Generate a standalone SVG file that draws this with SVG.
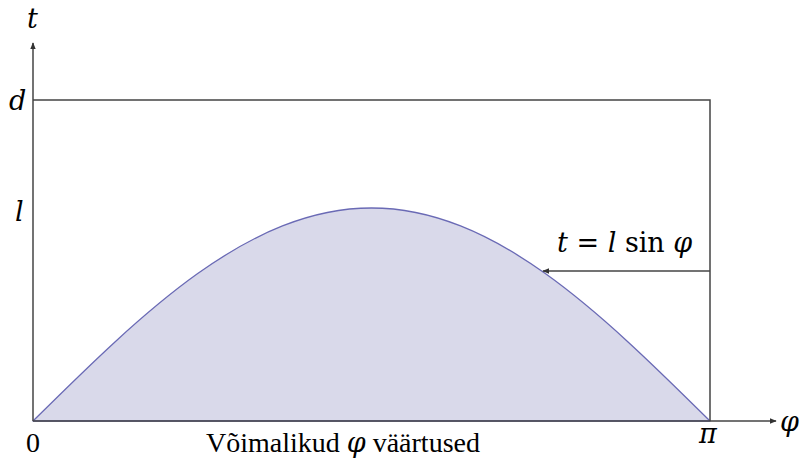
<svg xmlns="http://www.w3.org/2000/svg" width="800" height="459" viewBox="0 0 800 459">
<defs>
<style>
.ax{stroke:#444;stroke-width:1.5;fill:none}
.m{font-family:"DejaVu Serif","Liberation Serif",serif;font-style:italic;font-size:27px;fill:#000}
.r{font-family:"Liberation Serif","Times New Roman",serif;font-size:28px;fill:#000}
</style>
<marker id="ah" viewBox="0 0 10 10" refX="9" refY="5" markerWidth="7" markerHeight="7" orient="auto-start-reverse" markerUnits="userSpaceOnUse">
<path d="M0,1 L10,5 L0,9 Z" fill="#333"/>
</marker>
</defs>
<rect width="800" height="459" fill="#fff"/>
<g id="curve">
<path d="M33,421 C143.4,311.9 249,208 371.5,208 C494,208 599.6,311.9 710,421 Z" fill="#d9d9ea" stroke="#6a6ab5" stroke-width="1.3" stroke-linejoin="round"/>
</g>
<g id="connectors">
<line class="ax" x1="33" y1="421" x2="33" y2="43" marker-end="url(#ah)"/>
<line class="ax" x1="33" y1="421" x2="776" y2="421" marker-end="url(#ah)"/>
<polyline class="ax" points="33,100 710,100 710,421"/>
<line class="ax" x1="710" y1="271" x2="543" y2="271" marker-end="url(#ah)"/>
</g>
<g id="labels">
<text class="m" x="27" y="28">t</text>
<text class="m" x="9" y="110">d</text>
<text class="m" x="15" y="221">l</text>
<text class="m" x="557" y="252">t <tspan font-style="normal">=</tspan> l <tspan font-style="normal">sin</tspan> φ</text>
<text class="r" x="26" y="452">0</text>
<text class="r" x="206" y="452">Võimalikud <tspan class="m" font-size="27">φ</tspan> väärtused</text>
<text class="m" x="699" y="443">π</text>
<text class="m" x="780" y="431">φ</text>
</g>
</svg>
